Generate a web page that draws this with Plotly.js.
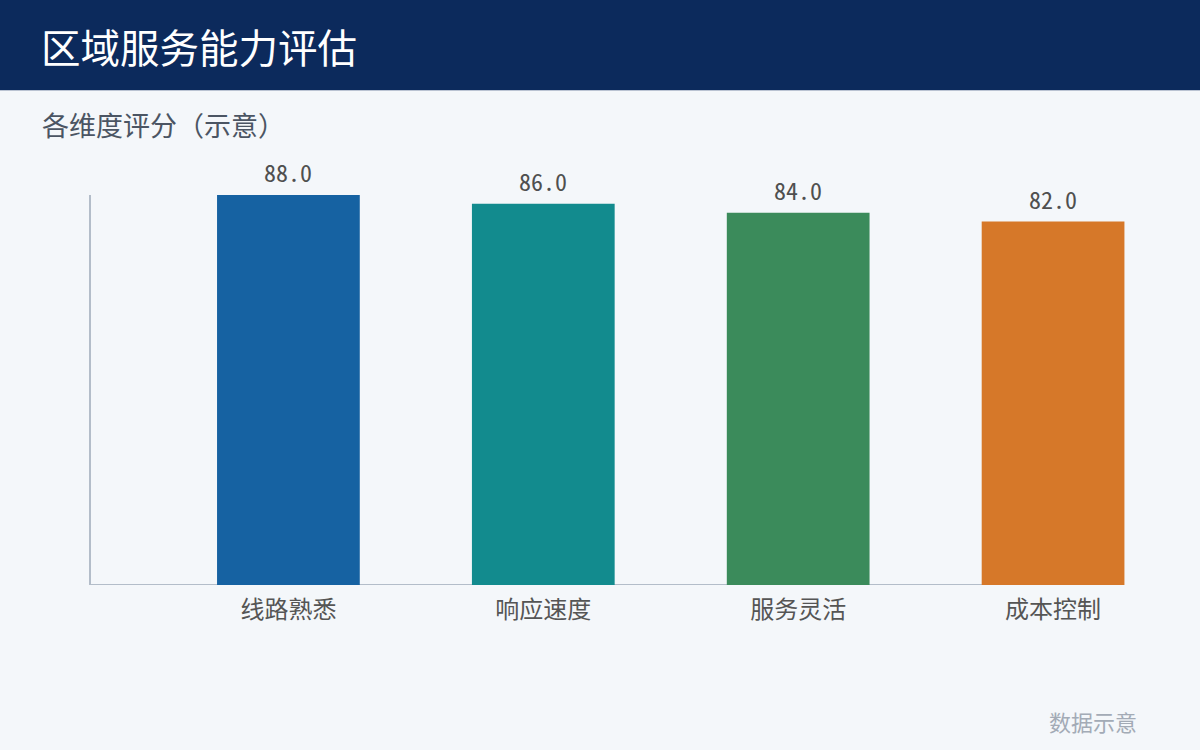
<!DOCTYPE html>
<html>
<head>
<meta charset="utf-8">
<script src="https://cdn.plot.ly/plotly-3.0.1.min.js"></script>
<style>
html,body{margin:0;padding:0;background:#f4f7fa;}
#chart{width:1200px;height:750px;}
</style>
</head>
<body>
<div id="chart"></div>
<script>
const categories = ["线路熟悉", "响应速度", "服务灵活", "成本控制"];
const scores = [88.0, 86.0, 84.0, 82.0];
const barColors = ["#1662a2", "#128b8e", "#3b8b5b", "#d67829"];
const titleText = "区域服务能力评估";
const subtitleText = "各维度评分（示意）";
const footnoteText = "数据示意";

const FONT = "'Noto Sans Mono CJK SC', 'Noto Sans CJK SC', monospace";

const trace = {
  type: "bar",
  x: categories,
  y: scores,
  width: 0.56,
  marker: {color: barColors, line: {width: 0}},
  hoverinfo: "skip"
};

const labelAnnotations = categories.map((c, i) => ({
  x: c, y: scores[i], xref: "x", yref: "y",
  text: scores[i].toFixed(1),
  showarrow: false, yanchor: "bottom", yshift: 4,
  font: {family: FONT, size: 24, color: "#4f4f4f"}
}));

const layout = {
  width: 1200, height: 750,
  paper_bgcolor: "#f4f7fa",
  plot_bgcolor: "rgba(0,0,0,0)",
  margin: {l: 91, r: 19.5, t: 195, b: 164.5},
  showlegend: false,
  font: {family: FONT},
  xaxis: {
    type: "category",
    range: [-0.7745, 3.498],
    showline: false, showgrid: false, zeroline: false,
    ticks: "", ticklabelstandoff: 8,
    tickfont: {family: FONT, size: 24, color: "#555555"},
    fixedrange: true
  },
  yaxis: {
    range: [0, 88],
    showline: true, linecolor: "#b3bdc9", linewidth: 2,
    showgrid: false, zeroline: false, showticklabels: false, ticks: "",
    fixedrange: true
  },
  shapes: [
    {type: "rect", xref: "paper", yref: "paper", x0: -0.2, x1: 1.1, y0: 1.2689, y1: 3,
     fillcolor: "#0c2a5c", line: {width: 0}, layer: "below"},
    {type: "line", xref: "paper", yref: "y", x0: -0.0005, x1: 0.9362, y0: 0, y1: 0,
     line: {color: "#b3bdc9", width: 2}, layer: "below"}
  ],
  annotations: [
    {xref: "paper", yref: "paper", x: -0.0476, y: 1.384, xanchor: "left", yanchor: "middle",
     text: titleText, showarrow: false, font: {family: FONT, size: 39.5, color: "#ffffff"}},
    {xref: "paper", yref: "paper", x: -0.0466, y: 1.1795, xanchor: "left", yanchor: "middle",
     text: subtitleText, showarrow: false, font: {family: FONT, size: 27, color: "#4b5563"}},
    {xref: "paper", yref: "paper", x: 0.9628, y: -0.3494, xanchor: "right", yanchor: "middle",
     text: footnoteText, showarrow: false, font: {family: FONT, size: 22, color: "#a3abb6"}}
  ].concat(labelAnnotations)
};

Plotly.newPlot("chart", [trace], layout, {displayModeBar: false, staticPlot: true});
</script>
</body>
</html>
